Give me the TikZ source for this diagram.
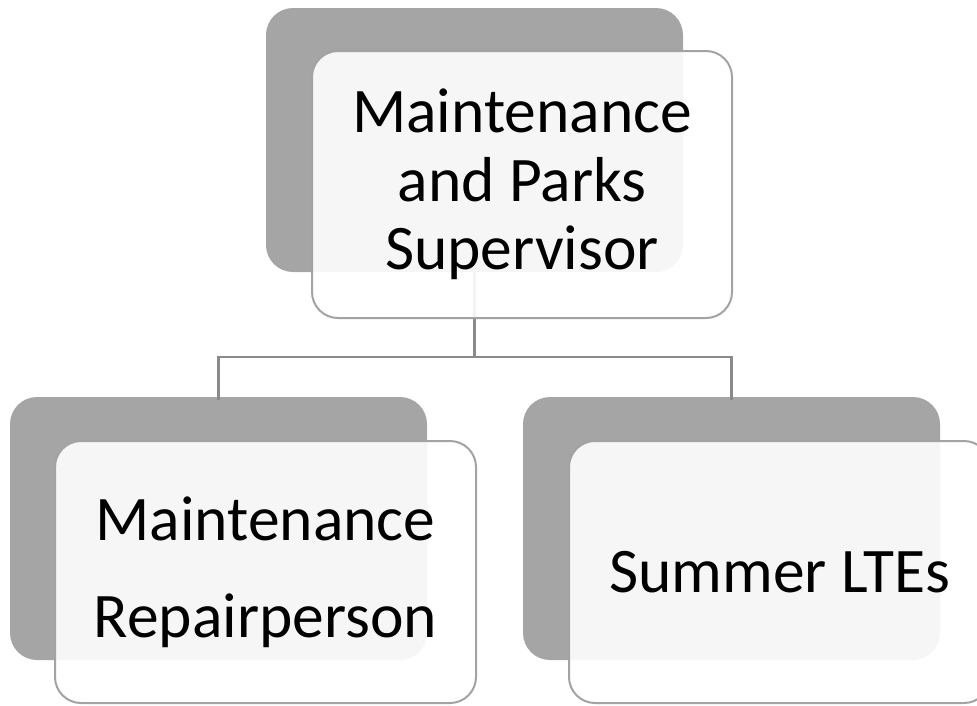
\documentclass[tikz,border=0pt]{standalone}
\usepackage{fontspec}
\setmainfont{Carlito}
\begin{document}
\begin{tikzpicture}[x=1pt,y=-1pt,
  backbox/.style={draw=none, fill=backgray, rounded corners=27pt,
    minimum width=417pt, minimum height=264pt, inner sep=0pt},
  frontbox/.style={draw=edgegray, line width=2pt, fill=white, fill opacity=0.9,
    text opacity=1, rounded corners=26pt, minimum width=420pt, minimum height=266pt,
    inner sep=0pt, align=center, font=\fontsize{63.5}{68.5}\selectfont},
  conn/.style={draw=conngray, line width=2.6pt}
]
\definecolor{backgray}{HTML}{A5A5A5}
\definecolor{edgegray}{HTML}{A3A3A3}
\definecolor{conngray}{HTML}{8A8A8A}
\useasboundingbox (0,0) rectangle (977,705);
\clip (0,0) rectangle (977,705);

% shaded back panels
\node[backbox] (topback) at (474.5,140) {};
\node[backbox, minimum height=263pt] (lback) at (218.5,528.5) {};
\node[backbox, minimum height=263pt] (rback) at (731.5,528.5) {};

% reporting lines
\coordinate (junc) at (474.5,357);
\draw[conn] (topback.south) -- (junc);
\draw[conn] ([yshift=-3pt]lback.north) |- (junc) -| ([yshift=-3pt]rback.north);

% front cards with titles
\node[frontbox, minimum height=267pt] (top) at (522,184.5)
  {Maintenance\\and Parks\\Supervisor};
\node[frontbox, minimum width=421pt, minimum height=262pt,
  font=\fontsize{63.5}{97}\selectfont] (left) at (265.5,572)
  {Maintenance\\Repairperson};
\node[frontbox, minimum width=421pt, minimum height=262pt] (right) at (779.5,572)
  {Summer LTEs};
\end{tikzpicture}
\end{document}
